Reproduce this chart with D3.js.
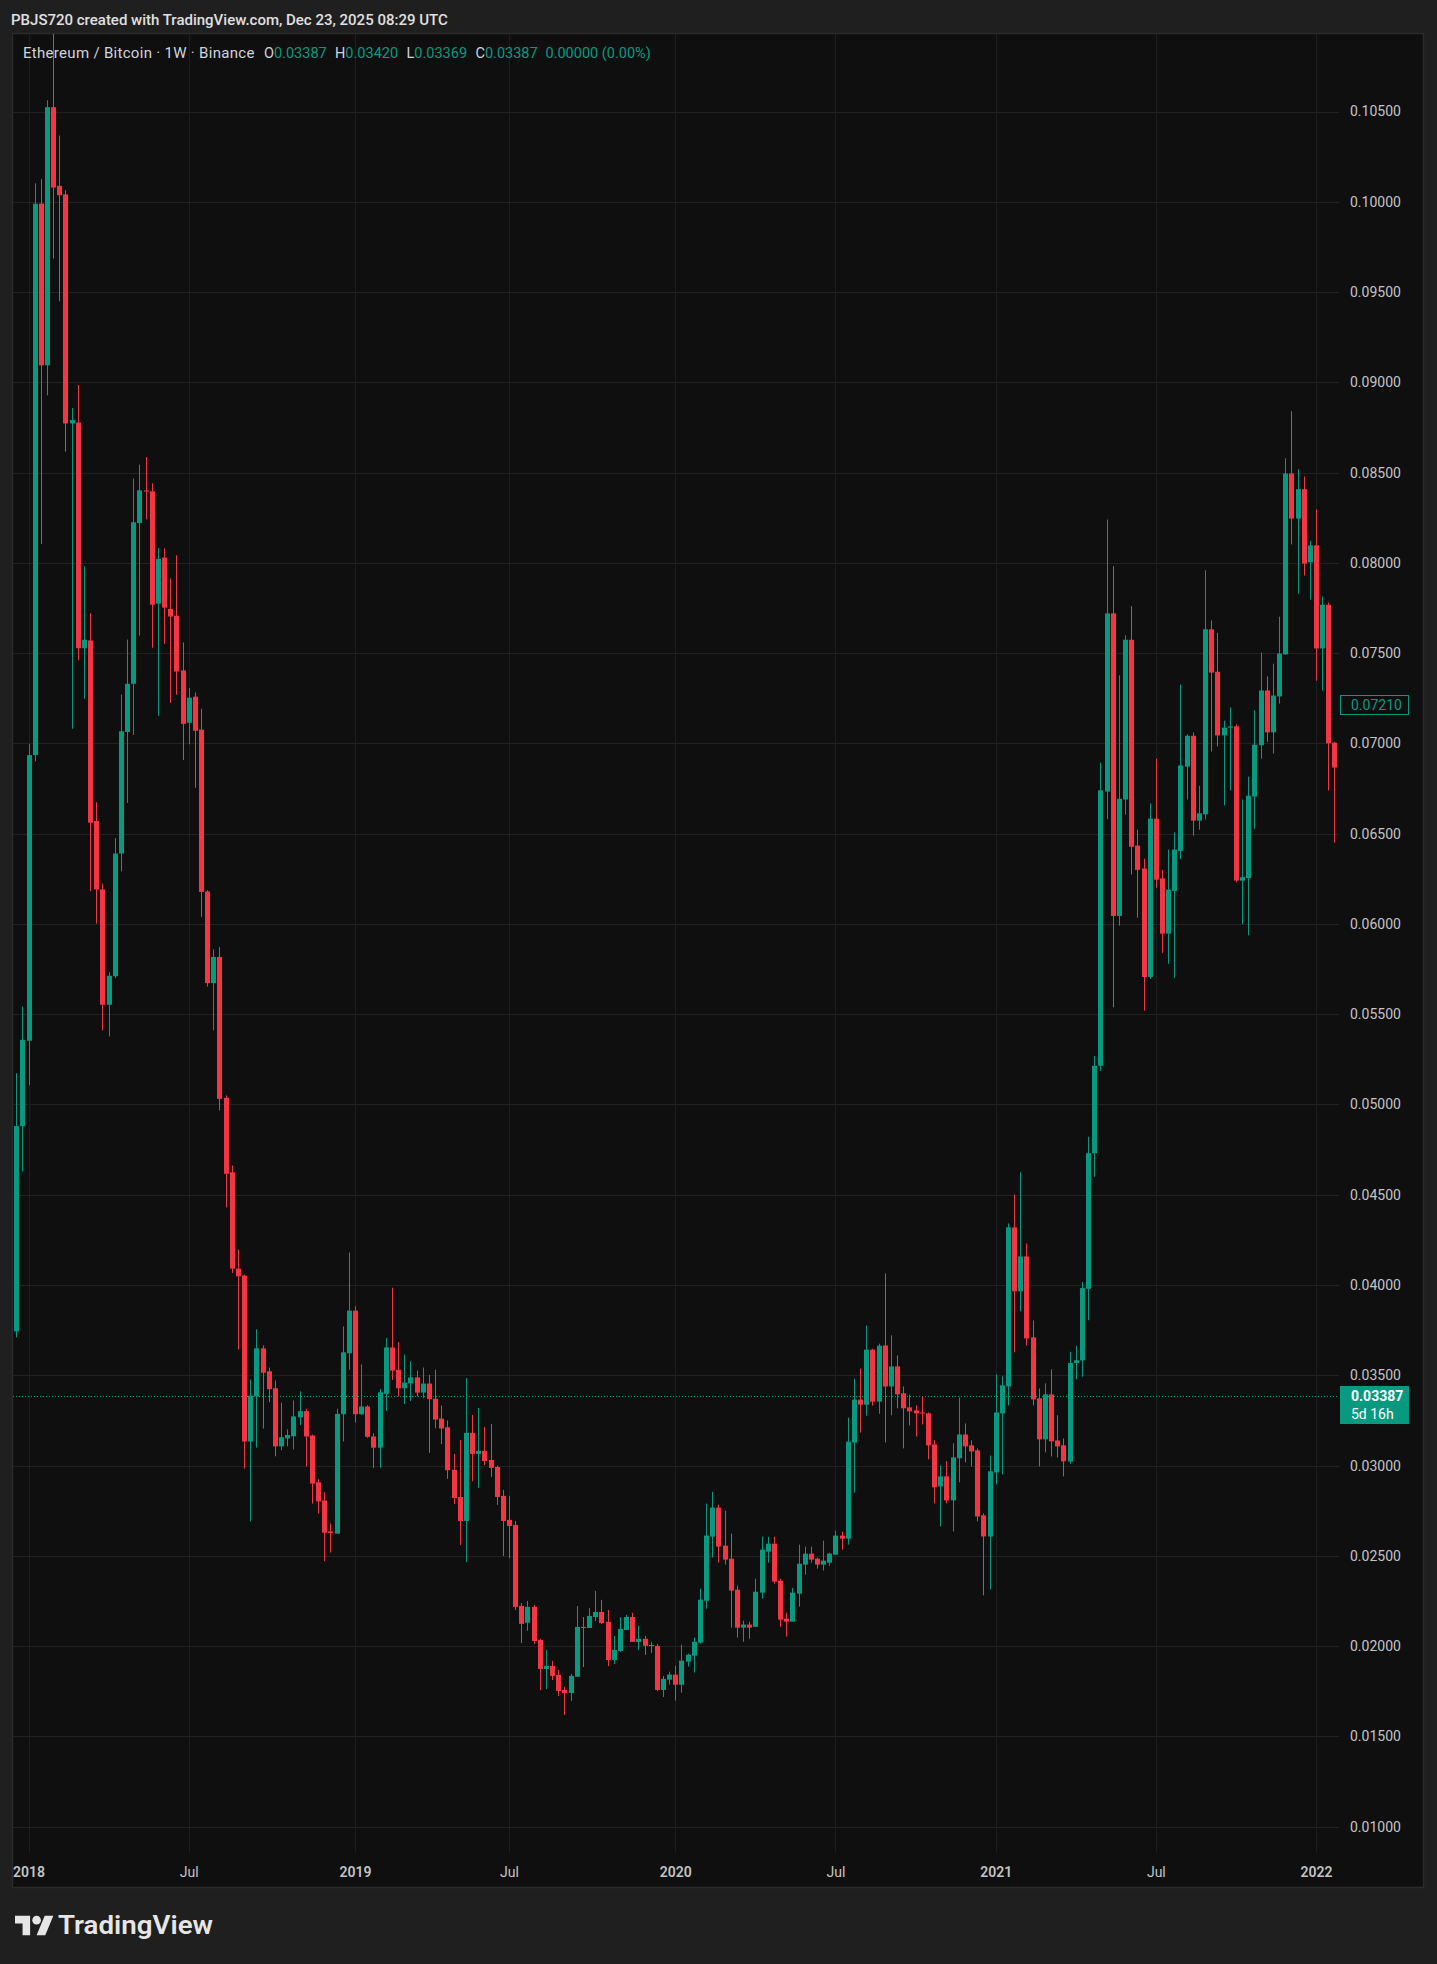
<!DOCTYPE html>
<html>
<head>
<meta charset="utf-8">
<script src="https://cdn.jsdelivr.net/npm/d3@7"></script>
<style>
  body { margin: 0; background: #1f1f1f; }
  svg { display: block; }
  text { font-family: Roboto, "Noto Sans", sans-serif; }
</style>
</head>
<body>
<div id="chart"></div>
<script>
// weekly ETH/BTC candles, first bar is the week of Dec 18 2017
var firstWeek = "2017-12-18";

var opens = [
  .03743,.0488,.05353,.06935,.0999,.09094,.10524,.10088,.10041,.08772,
  .08777,.07527,.0757,.0657,.06191,.05552,.0571,.0639,.07063,.0733,
  .0822,.08401,.08396,.07774,.08029,.07745,.07707,.07404,.07114,.07259,
  .07076,.0618,.05672,.05817,.05037,.04624,.04091,.04052,.03133,.03382,
  .03649,.03522,.03428,.03106,.0315,.03162,.03267,.03301,.03166,.02907,
  .02806,.02635,.02623,.03284,.03622,.03858,.03284,.03327,.03161,.03099,
  .03397,.03654,.03531,.03428,.03455,.03488,.03404,.03454,.0337,.0326,
  .03212,.02976,.02826,.02693,.03181,.03064,.03081,.03031,.02992,.02832,
  .02699,.02671,.02222,.02129,.02217,.02034,.01873,.0189,.0184,.01757,
  .0174,.0183,.02106,.021,.02161,.02189,.02134,.01923,.01973,.02089,
  .02161,.02023,.0204,.02006,.02001,.01757,.01814,.01842,.01786,.01914,
  .01947,.02019,.02251,.02606,.02767,.02556,.02484,.02312,.02102,.02119,
  .02107,.02296,.02523,.02567,.02362,.02152,.02135,.0229,.02451,.02512,
  .02484,.02451,.02462,.02506,.02612,.02595,.03127,.03365,.03337,.03642,
  .03354,.03665,.03438,.03549,.034,.03322,.03305,.03294,.03289,.03117,
  .02884,.0294,.02807,.0304,.03172,.03112,.03084,.02724,.02607,.02962,
  .03289,.03438,.04319,.03965,.04158,.0371,.03372,.03145,.03394,.03139,
  .03112,.03022,.03568,.03583,.03979,.0473,.05214,.06733,.0772,.06044,
  .06689,.07574,.06434,.06307,.05706,.06583,.06252,.05946,.06183,.06405,
  .06871,.07042,.06572,.06607,.07632,.07397,.07044,.07087,.07094,.0624,
  .06254,.06706,.0699,.07293,.07061,.0726,.07493,.08495,.08245,.08408,
  .08003,.08097,.07526,.07768,.07004
];

var highs = [
  .05173,.05543,.06996,.10102,.10126,.10562,.1150,.10367,.10064,.08857,
  .08985,.07981,.07721,.06674,.06224,.05732,.06475,.07271,.07575,.08467,
  .08544,.08586,.08441,.08083,.0808,.07913,.08042,.07559,.07307,.07282,
  .07192,.06187,.05859,.05872,.0505,.04662,.04196,.04058,.03476,.03755,
  .03666,.03543,.03471,.03349,.032,.03361,.03411,.03315,.03172,.02924,
  .02852,.02679,.03315,.03771,.0418,.03882,.0356,.03334,.03178,.03423,
  .03707,.03985,.03683,.03615,.03577,.03526,.03543,.03502,.03531,.03332,
  .0325,.03064,.03142,.03485,.0328,.03319,.03214,.0323,.03,.02865,
  .02832,.02693,.02239,.0225,.02228,.0204,.01979,.01918,.01868,.01774,
  .01846,.02222,.02161,.02211,.02305,.02256,.022,.02056,.02161,.02172,
  .02184,.02112,.02056,.02023,.02012,.01835,.01858,.01891,.02008,.01958,
  .02047,.02318,.02789,.02855,.02783,.0275,.02623,.02335,.02141,.02135,
  .02373,.02606,.02606,.02606,.02373,.02185,.02323,.02562,.02551,.02551,
  .0249,.02584,.02517,.02639,.02634,.03265,.03481,.03537,.03775,.03647,
  .03675,.04064,.03721,.0361,.03438,.03394,.03333,.03383,.03294,.0314,
  .03001,.03023,.03123,.03377,.03233,.0314,.03095,.02735,.03056,.03505,
  .03494,.04341,.04502,.04624,.0423,.03804,.03427,.03455,.03533,.03278,
  .0315,.0363,.03663,.04016,.04821,.05269,.06893,.0824,.07982,.07377,
  .07599,.0776,.06522,.06361,.06667,.06915,.06299,.06412,.06507,.07326,
  .0705,.0706,.06765,.07959,.07681,.07613,.07126,.07199,.07105,.06689,
  .06816,.07183,.07503,.07371,.07441,.07702,.08579,.0884,.08518,.08478,
  .08123,.08295,.07813,.0778,.07009
];

var lows = [
  .0371,.04629,.05107,.069,.08104,.08928,.09686,.09449,.08616,.07081,
  .0746,.07247,.06182,.06002,.0541,.05377,.057,.06291,.0667,.07047,
  .07597,.08241,.0753,.07153,.07552,.07224,.07269,.06908,.06995,.06754,
  .06039,.05653,.05411,.04967,.0443,.04067,.03642,.02983,.02691,.03099,
  .03205,.03351,.03051,.03085,.03106,.03089,.03224,.02995,.02789,.02734,
  .0247,.02518,.0262,.03133,.03531,.03238,.0328,.03154,.02986,.02988,
  .03303,.03474,.03382,.03341,.03358,.03382,.03373,.0307,.03207,.03118,
  .02926,.02787,.0256,.02466,.02913,.02876,.03003,.02937,.02782,.02499,
  .02488,.022,.02017,.02084,.02012,.01757,.01763,.01812,.01724,.01619,
  .01696,.0183,.01884,.021,.02139,.02123,.0189,.01901,.01968,.02089,
  .02023,.01979,.01951,.01962,.0175,.01718,.01786,.01698,.01742,.01886,
  .01853,.02013,.02207,.0249,.02462,.02451,.02102,.02047,.02024,.02041,
  .02107,.02263,.02462,.02346,.02107,.02052,.02135,.02218,.02396,.02462,
  .02429,.02418,.02445,.02506,.02534,.02562,.0285,.03182,.03276,.03332,
  .03287,.03128,.03278,.03317,.03095,.03222,.03161,.03228,.03034,.0279,
  .02663,.0279,.02635,.02907,.03017,.02995,.02691,.02281,.02314,.02896,
  .02951,.03333,.03627,.03854,.03665,.03333,.02995,.03073,.0305,.03045,
  .0294,.0301,.03477,.03492,.03805,.04599,.05185,.0658,.05538,.0599,
  .06605,.06274,.06034,.0552,.05695,.06201,.0584,.05779,.05702,.06358,
  .06689,.06489,.06522,.06579,.06955,.06983,.06656,.06739,.0623,.05998,
  .05937,.06527,.06915,.07009,.06943,.0722,.0749,.08102,.07829,.0793,
  .07796,.07347,.07293,.06739,.0645
];

var closes = [
  .0488,.05358,.06935,.09989,.09094,.10524,.10079,.10036,.08772,.08791,
  .07527,.07574,.06561,.06191,.05552,.05713,.0639,.07067,.0733,.08225,
  .08402,.08395,.07768,.08022,.07752,.07703,.07398,.07108,.07253,.0707,
  .06177,.05672,.05817,.05031,.04616,.04091,.04048,.03133,.03387,.03649,
  .03514,.03423,.03106,.03157,.03169,.03272,.03301,.03161,.029,.02801,
  .02628,.02626,.03286,.03627,.03858,.03284,.03327,.03159,.03099,.03406,
  .03654,.03526,.03428,.03459,.03488,.03404,.03454,.03368,.03255,.03205,
  .02974,.0282,.02693,.03181,.03064,.03081,.03025,.02987,.02826,.02693,
  .02665,.02217,.02123,.02217,.02028,.01873,.0189,.01835,.01751,.0174,
  .01835,.02106,.021,.02167,.02189,.02128,.01923,.01979,.02095,.02161,
  .02023,.0204,.02001,.02,.01757,.01818,.01842,.01786,.01919,.01952,
  .02024,.02257,.02612,.02767,.02551,.02479,.02307,.02102,.02119,.02102,
  .02301,.02534,.02567,.02357,.02146,.02135,.02296,.02456,.02512,.02479,
  .02451,.02473,.02512,.02612,.02595,.03132,.03365,.03337,.03642,.03354,
  .03664,.03438,.03549,.03394,.03317,.033,.03289,.03289,.03112,.02879,
  .0294,.02807,.03045,.03172,.03106,.03078,.02718,.02607,.02968,.03294,
  .03444,.04319,.03965,.04158,.03704,.03366,.03145,.03394,.03134,.03106,
  .03023,.03568,.03583,.03983,.0473,.05214,.0674,.0772,.06044,.06693,
  .07574,.06427,.06299,.05706,.06583,.06245,.05946,.0619,.06412,.06878,
  .07042,.06572,.06613,.07632,.07392,.07044,.07087,.07094,.0624,.06259,
  .0671,.06993,.07293,.07061,.07265,.07498,.08495,.08245,.08408,.07996,
  .08097,.07526,.07768,.07,.06866
];

var priceTicks = [0.010,0.015,0.020,0.025,0.030,0.035,0.040,0.045,0.050,0.055,
  0.060,0.065,0.070,0.075,0.080,0.085,0.090,0.095,0.100,0.105];

var timeTicks = ["2018-01-01","2018-07-02","2019-01-07","2019-07-01","2020-01-06",
  "2020-07-06","2021-01-04","2021-07-05","2022-01-03"];
var timeLabels = ["2018","Jul","2019","Jul","2020","Jul","2021","Jul","2022"];

var lastPrice = 0.03387;
var markPrice = 0.07210;

var width = 1437, height = 1964;
var green = "#089981", red = "#f23645";

// panel + plot box
var panel = { left: 12.5, top: 33.5, right: 1423.5, bottom: 1887.5 };
var plot = { left: 13, top: 34, right: 1339, bottom: 1853 };

var parse = d3.utcParse("%Y-%m-%d");
var start = parse(firstWeek);

var bars = opens.map(function(o, i) {
  return {
    date: d3.utcDay.offset(start, i * 7),
    o: o, h: highs[i], l: lows[i], c: closes[i]
  };
});

var x = d3.scaleUtc()
  .domain([parse("2018-01-01"), parse("2022-01-03")])
  .range([28.5, 1316]);

var y = d3.scaleLinear()
  .domain([0.010, 0.105])
  .range([1826.6, 111.5]);

var svg = d3.select("#chart")
  .append("svg")
  .attr("width", width)
  .attr("height", height);

svg.append("rect")
  .attr("width", width).attr("height", height)
  .attr("fill", "#1f1f1f");

// header
svg.append("text")
  .attr("x", 11).attr("y", 25)
  .attr("fill", "#e0e0e0")
  .attr("font-size", 15)
  .attr("font-weight", 500)
  .text("PBJS720 created with TradingView.com, Dec 23, 2025 08:29 UTC");

svg.append("rect")
  .attr("x", panel.left).attr("y", panel.top)
  .attr("width", panel.right - panel.left)
  .attr("height", panel.bottom - panel.top)
  .attr("fill", "#0f0f0f")
  .attr("stroke", "#2b2b2b")
  .attr("stroke-width", 1.5);

var defs = svg.append("defs");
defs.append("clipPath").attr("id", "plotclip")
  .append("rect")
  .attr("x", plot.left).attr("y", plot.top)
  .attr("width", plot.right - plot.left)
  .attr("height", plot.bottom - plot.top);

// grid
var grid = svg.append("g");
grid.selectAll(".hgrid")
  .data(priceTicks)
  .enter().append("line")
  .attr("x1", plot.left).attr("x2", plot.right)
  .attr("y1", function(d) { return Math.round(y(d)) + 0.5; })
  .attr("y2", function(d) { return Math.round(y(d)) + 0.5; })
  .attr("stroke", "#222222");

grid.selectAll(".vgrid")
  .data(timeTicks)
  .enter().append("line")
  .attr("x1", function(d) { return Math.round(x(parse(d))) + 0.5; })
  .attr("x2", function(d) { return Math.round(x(parse(d))) + 0.5; })
  .attr("y1", plot.top).attr("y2", plot.bottom)
  .attr("stroke", "#1e1e1e");

// last price line (dotted)
svg.append("line")
  .attr("x1", plot.left).attr("x2", plot.right)
  .attr("y1", Math.round(y(lastPrice)) + 0.5)
  .attr("y2", Math.round(y(lastPrice)) + 0.5)
  .attr("stroke", green)
  .attr("stroke-dasharray", "1,2");

// the candles
var candles = svg.append("g").attr("clip-path", "url(#plotclip)")
  .selectAll("g")
  .data(bars)
  .enter().append("g");

candles.append("rect")
  .attr("x", function(d) { return Math.round(x(d.date)); })
  .attr("width", 1)
  .attr("y", function(d) { return y(d.h); })
  .attr("height", function(d) { return y(d.l) - y(d.h); })
  .attr("fill", function(d) { return d.c >= d.o ? green : red; });

candles.append("rect")
  .attr("x", function(d) { return Math.round(x(d.date)) - 2; })
  .attr("width", 5)
  .attr("y", function(d) { return y(Math.max(d.o, d.c)); })
  .attr("height", function(d) {
    return Math.max(1, Math.abs(y(d.o) - y(d.c)));
  })
  .attr("fill", function(d) { return d.c >= d.o ? green : red; });

// legend row
var legend = svg.append("g");
legend.append("text")
  .attr("x", 23).attr("y", 58)
  .attr("fill", "#d1d4dc")
  .attr("font-size", 15)
  .attr("letter-spacing", 0.3)
  .text("Ethereum / Bitcoin \u00b7 1W \u00b7 Binance");

var ohlc = [["O", "0.03387", 264], ["H", "0.03420", 335], ["L", "0.03369", 406.5], ["C", "0.03387", 475.5]];
ohlc.forEach(function(p) {
  var t = legend.append("text").attr("x", p[2]).attr("y", 58).attr("font-size", 14.5);
  t.append("tspan").attr("fill", "#d1d4dc").text(p[0]);
  t.append("tspan").attr("fill", green).text(p[1]);
});
legend.append("text")
  .attr("x", 545.5).attr("y", 58)
  .attr("fill", green)
  .attr("font-size", 14.5)
  .text("0.00000 (0.00%)");

// price axis
var yAxis = d3.axisRight(y)
  .tickValues(priceTicks)
  .tickSize(0)
  .tickPadding(11)
  .tickFormat(d3.format(".5f"));

var ya = svg.append("g")
  .attr("transform", "translate(" + plot.right + ",0)")
  .call(yAxis);
ya.select(".domain").remove();
ya.selectAll("text")
  .attr("fill", "#c4c4c4")
  .attr("font-size", 14)
  .attr("font-family", "Roboto, sans-serif");

// time axis
var xAxis = d3.axisBottom(x)
  .tickValues(timeTicks.map(parse))
  .tickSize(0)
  .tickPadding(0)
  .tickFormat(function(d, i) { return timeLabels[i]; });

var xa = svg.append("g")
  .attr("transform", "translate(0,1872)")
  .call(xAxis);
xa.select(".domain").remove();
xa.selectAll("text")
  .attr("dy", "0.35em")
  .attr("fill", "#c4c4c4")
  .attr("font-size", 14)
  .attr("font-family", "Roboto, sans-serif")
  .attr("font-weight", function(d, i) { return timeLabels[i] === "Jul" ? 400 : 600; });

// price tags on the axis
var tag1 = svg.append("g");
tag1.append("rect")
  .attr("x", 1340.5).attr("y", Math.round(y(markPrice)) - 9.5)
  .attr("width", 68).attr("height", 19)
  .attr("fill", "#0f0f0f")
  .attr("stroke", green);
tag1.append("text")
  .attr("x", 1351).attr("y", y(markPrice))
  .attr("dy", "0.35em")
  .attr("fill", green)
  .attr("font-size", 14)
  .text(d3.format(".5f")(markPrice));

var tag2 = svg.append("g");
tag2.append("rect")
  .attr("x", 1340).attr("y", Math.round(y(lastPrice)) - 10)
  .attr("width", 69).attr("height", 38)
  .attr("fill", green);
tag2.append("text")
  .attr("x", 1351).attr("y", y(lastPrice))
  .attr("dy", "0.35em")
  .attr("fill", "#ffffff")
  .attr("font-size", 14)
  .attr("font-weight", 700)
  .text(d3.format(".5f")(lastPrice));
tag2.append("text")
  .attr("x", 1351).attr("y", y(lastPrice) + 18)
  .attr("dy", "0.35em")
  .attr("fill", "#ffffff")
  .attr("font-size", 14)
  .text("5d 16h");

// tradingview logo bottom left
var logo = svg.append("g")
  .attr("transform", "translate(15,1911.5) scale(1.08)")
  .attr("fill", "#e6e6e6");
logo.append("path").attr("d", "M14 22H7V11H0V4h14v18z");
logo.append("path").attr("d", "M28 22h-8l7.5-18h8L28 22z");
logo.append("circle").attr("cx", 20).attr("cy", 8).attr("r", 4);

svg.append("text")
  .attr("x", 58).attr("y", 1934)
  .attr("fill", "#e6e6e6")
  .attr("font-size", 25)
  .attr("font-weight", 600)
  .attr("textLength", 155)
  .attr("lengthAdjust", "spacingAndGlyphs")
  .text("TradingView");
</script>
</body>
</html>
